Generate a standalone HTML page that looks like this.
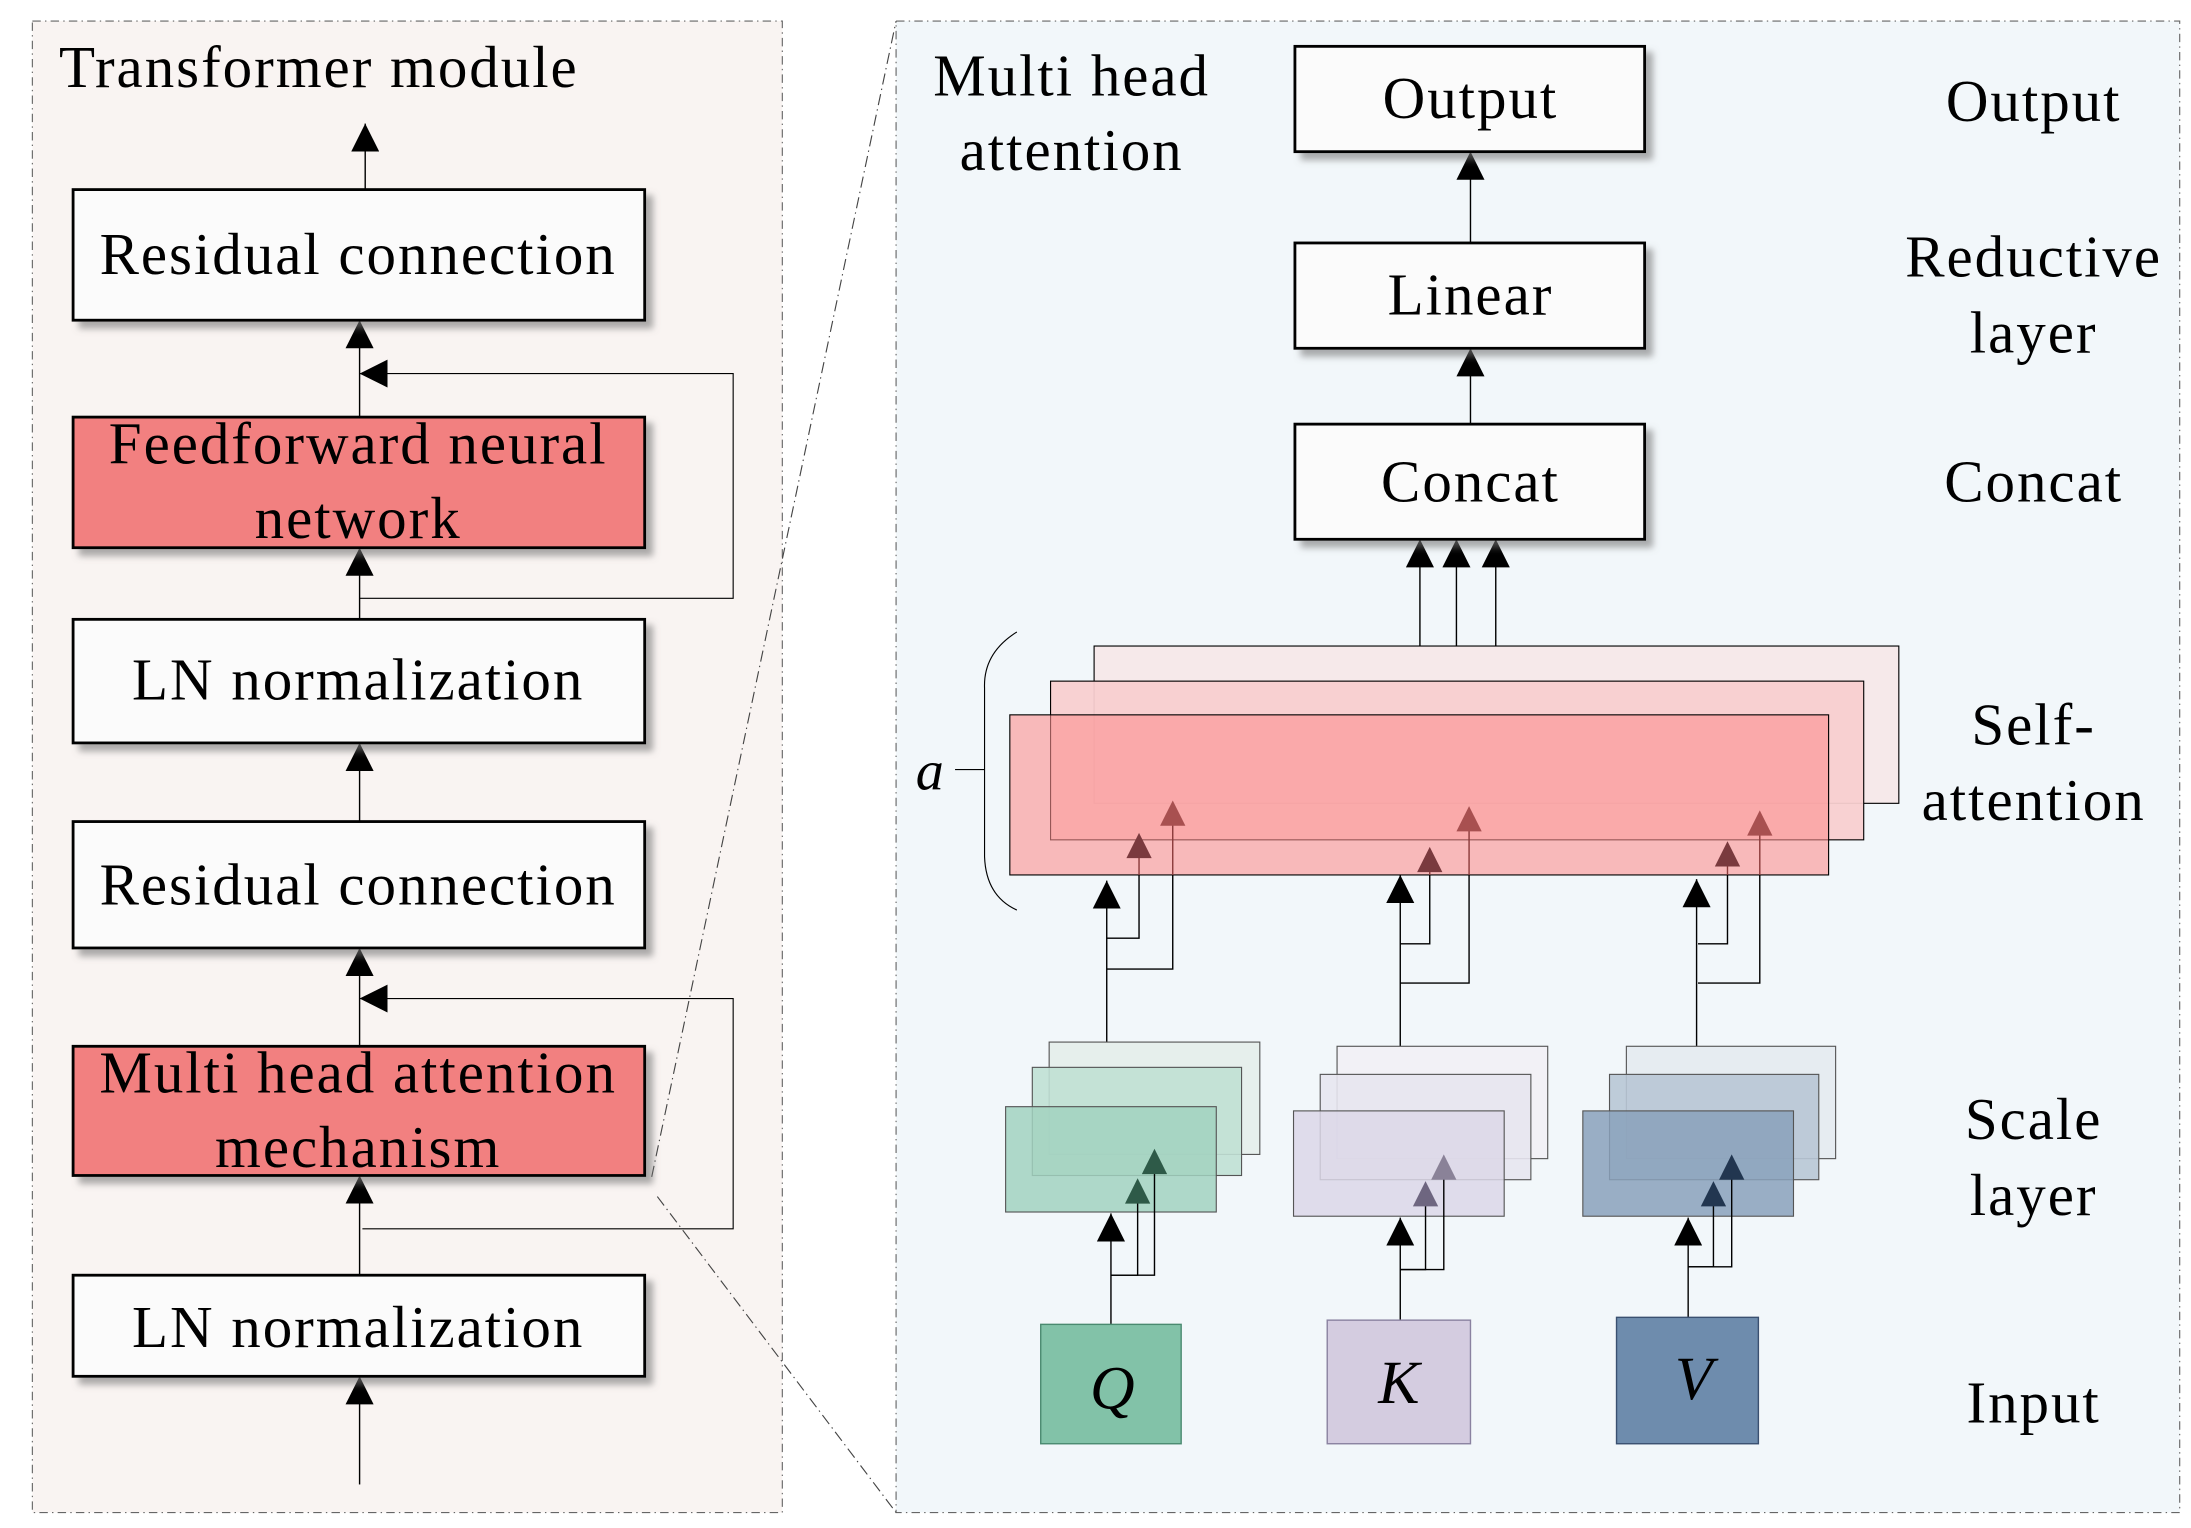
<!DOCTYPE html>
<html><head><meta charset="utf-8"><style>
html,body{margin:0;padding:0;background:#fff}
svg{display:block}
text{font-family:"Liberation Serif",serif;fill:#000}
.t{font-size:42px;letter-spacing:1.4px}
</style></head><body>
<svg width="2191" height="1528" viewBox="0 0 1560 1088" xmlns="http://www.w3.org/2000/svg">
<defs>
<marker id="ab" viewBox="0 0 10 10" refX="10" refY="5" markerWidth="20" markerHeight="20" markerUnits="userSpaceOnUse" orient="auto"><path d="M0,0 L10,5 L0,10 Z" fill="#000"/></marker>
<filter id="sh" x="-5%" y="-10%" width="115%" height="130%"><feDropShadow dx="5" dy="5" stdDeviation="2.5" flood-color="#777" flood-opacity="0.6"/></filter>
</defs>
<rect x="0" y="0" width="1560" height="1088" fill="#fff"/>
<rect x="23" y="15" width="534" height="1062" fill="#f9f4f2" stroke="#666" stroke-width="0.8" stroke-dasharray="6,3,1,3"/>
<rect x="638" y="15" width="914" height="1062" fill="#f2f7fa" stroke="#666" stroke-width="0.8" stroke-dasharray="6,3,1,3"/>
<line x1="464" y1="838" x2="638" y2="15" stroke="#444" stroke-width="0.8" stroke-dasharray="8,3,1,3"/>
<line x1="468" y1="852" x2="638" y2="1077" stroke="#444" stroke-width="0.8" stroke-dasharray="8,3,1,3"/>

<text x="42" y="62" class="t">Transformer module</text>
<g stroke="#000" stroke-width="1" fill="none">
<line x1="260" y1="135" x2="260" y2="88" marker-end="url(#ab)"/>
<line x1="256" y1="297" x2="256" y2="228" marker-end="url(#ab)"/>
<line x1="256" y1="441" x2="256" y2="390" marker-end="url(#ab)"/>
<line x1="256" y1="585" x2="256" y2="529" marker-end="url(#ab)"/>
<line x1="256" y1="745" x2="256" y2="675" marker-end="url(#ab)"/>
<line x1="256" y1="908" x2="256" y2="837" marker-end="url(#ab)"/>
<line x1="256" y1="1057" x2="256" y2="980" marker-end="url(#ab)"/>
<polyline points="256,426 522,426 522,266 256,266" marker-end="url(#ab)" stroke-width="0.8"/>
<polyline points="258,875 522,875 522,711 256,711" marker-end="url(#ab)" stroke-width="0.8"/>
</g>
<g stroke="#000" stroke-width="2" filter="url(#sh)">
<rect x="52" y="135" width="407" height="93" fill="#fbfbfb"/>
<rect x="52" y="297" width="407" height="93" fill="#f28080"/>
<rect x="52" y="441" width="407" height="88" fill="#fbfbfb"/>
<rect x="52" y="585" width="407" height="90" fill="#fbfbfb"/>
<rect x="52" y="745" width="407" height="92" fill="#f28080"/>
<rect x="52" y="908" width="407" height="72" fill="#fbfbfb"/>
</g>
<g class="t" text-anchor="middle">
<text x="255" y="195">Residual connection</text>
<text x="255" y="330">Feedforward neural</text>
<text x="255" y="383">network</text>
<text x="255" y="498">LN normalization</text>
<text x="255" y="644">Residual connection</text>
<text x="255" y="778">Multi head attention</text>
<text x="255" y="831">mechanism</text>
<text x="255" y="959">LN normalization</text>
</g>

<g class="t" text-anchor="middle">
<text x="763" y="68">Multi head</text>
<text x="763" y="121">attention</text>
<text x="1448" y="86">Output</text>
<text x="1448" y="197">Reductive</text>
<text x="1448" y="251">layer</text>
<text x="1448" y="357">Concat</text>
<text x="1448" y="530">Self-</text>
<text x="1448" y="584">attention</text>
<text x="1448" y="811">Scale</text>
<text x="1448" y="865">layer</text>
<text x="1448" y="1013">Input</text>
</g>
<g stroke="#000" stroke-width="1" fill="none">
<line x1="1047" y1="173" x2="1047" y2="108" marker-end="url(#ab)"/>
<line x1="1047" y1="302" x2="1047" y2="248" marker-end="url(#ab)"/>
<line x1="1011" y1="509" x2="1011" y2="384" marker-end="url(#ab)"/>
<line x1="1037" y1="485" x2="1037" y2="384" marker-end="url(#ab)"/>
<line x1="1065" y1="460" x2="1065" y2="384" marker-end="url(#ab)"/>
</g>
<g stroke="#000" stroke-width="2" filter="url(#sh)">
<rect x="922" y="33" width="249" height="75" fill="#fbfbfb"/>
<rect x="922" y="173" width="249" height="75" fill="#fbfbfb"/>
<rect x="922" y="302" width="249" height="82" fill="#fbfbfb"/>
</g>
<g class="t" text-anchor="middle">
<text x="1047" y="84">Output</text>
<text x="1047" y="224">Linear</text>
<text x="1047" y="357">Concat</text>
</g>

<rect x="779" y="460" width="573" height="112" fill="#f6e9ea" stroke="#000" stroke-width="0.8"/>
<rect x="748" y="485" width="579" height="113" fill="#f8cfd0" fill-opacity="0.95" stroke="#000" stroke-width="0.8"/>
<rect x="719" y="509" width="583" height="114" fill="#fb9090" fill-opacity="0.6" stroke="#000" stroke-width="0.8"/>
<path d="M724,450 Q700,465 701,490 L701,610 Q702,638 724,648" fill="none" stroke="#000" stroke-width="0.8"/>
<line x1="680" y1="548" x2="701" y2="548" stroke="#000" stroke-width="0.8"/>
<text x="652" y="562" font-size="40" font-style="italic">a</text>

<g fill="none" stroke-width="1">
<g stroke="#000">
<line x1="788" y1="742" x2="788" y2="627" marker-end="url(#ab)"/>
<line x1="997" y1="745" x2="997" y2="623" marker-end="url(#ab)"/>
<line x1="1208" y1="745" x2="1208" y2="626" marker-end="url(#ab)"/>
<polyline points="788,668 811,668 811,623"/>
<polyline points="788,690 835,690 835,623"/>
<polyline points="997,672 1018,672 1018,623"/>
<polyline points="997,700 1046,700 1046,623"/>
<polyline points="1209,672 1230,672 1230,623"/>
<polyline points="1209,700 1253,700 1253,623"/>
</g>
<g stroke="#8a3a3a">
<line x1="811" y1="623" x2="811" y2="598"/><line x1="835" y1="623" x2="835" y2="572"/>
<line x1="1018" y1="623" x2="1018" y2="606"/><line x1="1046" y1="623" x2="1046" y2="580"/>
<line x1="1230" y1="623" x2="1230" y2="602"/><line x1="1253" y1="623" x2="1253" y2="584"/>
</g>
</g>
<path d="M802,611 L811,593 L820,611Z" fill="#7a3a3e"/>
<path d="M826,588 L835,570 L844,588Z" fill="#a85050"/>
<path d="M1009,621 L1018,603 L1027,621Z" fill="#7a3a3e"/>
<path d="M1037,592 L1046,574 L1055,592Z" fill="#a85050"/>
<path d="M1221,617 L1230,599 L1239,617Z" fill="#7a3a3e"/>
<path d="M1244,595 L1253,577 L1262,595Z" fill="#a85050"/>

<g stroke="#555" stroke-width="0.8">
<rect x="747" y="742" width="150" height="80" fill="#e6efec"/>
<rect x="735" y="760" width="149" height="77" fill="#c0e0d4" fill-opacity="0.9"/>
<rect x="716" y="788" width="150" height="75" fill="#a2d2bf" fill-opacity="0.85"/>
<rect x="952" y="745" width="150" height="80" fill="#f2f1f6"/>
<rect x="940" y="765" width="150" height="75" fill="#e7e5ef" fill-opacity="0.9"/>
<rect x="921" y="791" width="150" height="75" fill="#dcd7e7" fill-opacity="0.85"/>
<rect x="1158" y="745" width="149" height="80" fill="#e6ecf1"/>
<rect x="1146" y="765" width="149" height="75" fill="#b8c6d5" fill-opacity="0.9"/>
<rect x="1127" y="791" width="150" height="75" fill="#8aa1bb" fill-opacity="0.85"/>
</g>
<g fill="none" stroke="#000" stroke-width="1">
<line x1="791" y1="943" x2="791" y2="864" marker-end="url(#ab)"/>
<line x1="997" y1="940" x2="997" y2="867" marker-end="url(#ab)"/>
<line x1="1202" y1="938" x2="1202" y2="867" marker-end="url(#ab)"/>
<polyline points="791,908 810,908 810,852"/>
<polyline points="791,908 822,908 822,830"/>
<polyline points="997,904 1015,904 1015,852"/>
<polyline points="997,904 1028,904 1028,832"/>
<polyline points="1202,902 1220,902 1220,852"/>
<polyline points="1202,902 1233,902 1233,832"/>
</g>
<path d="M801,857 L810,839 L819,857Z" fill="#2e5a48"/>
<path d="M813,836 L822,818 L831,836Z" fill="#2e5a48"/>
<path d="M1006,859 L1015,841 L1024,859Z" fill="#6e6680"/>
<path d="M1019,840 L1028,822 L1037,840Z" fill="#8a8298"/>
<path d="M1211,859 L1220,841 L1229,859Z" fill="#223650"/>
<path d="M1224,840 L1233,822 L1242,840Z" fill="#223650"/>

<rect x="741" y="943" width="100" height="85" fill="#82c2a8" stroke="#4a8a70" stroke-width="1"/>
<rect x="945" y="940" width="102" height="88" fill="#d4cce0" stroke="#8a82a0" stroke-width="1"/>
<rect x="1151" y="938" width="101" height="90" fill="#6e8cad" stroke="#3a5070" stroke-width="1"/>
<g font-size="44" font-style="italic" text-anchor="middle">
<text x="792" y="1003">Q</text>
<text x="996" y="999">K</text>
<text x="1206" y="996">V</text>
</g>
</svg>
</body></html>
